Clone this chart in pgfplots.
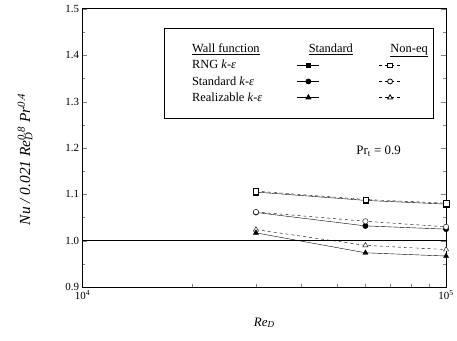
\documentclass[border=0pt]{standalone}
\usepackage{fontspec}
\setmainfont{Liberation Serif}
\usepackage{pgfplots}
\pgfplotsset{compat=1.18}
\pgfplotsset{
  legsym/.style 2 args={legend image code/.code={\path (-#1,0pt) (#2,0pt); \draw[mark repeat=2,mark phase=2] plot coordinates {(-11pt,0pt) (0pt,0pt) (11pt,0pt)};}},
  legpad/.style={legend image code/.code={\path (0pt,0pt) (22pt,0pt);}},
}
\begin{document}
\begin{tikzpicture}
\begin{axis}[
  name=ax,
  scale only axis, width=366pt, height=280pt,
  xmode=log, xmin=1e4, xmax=1e5,
  ymin=0.9, ymax=1.5,
  xtick={1e4,1e5}, xticklabels={10\textsuperscript{4},10\textsuperscript{5}},
  ytick={0.9,1.0,1.1,1.2,1.3,1.4,1.5},
  minor y tick num=1,
  tick align=inside, xtick pos=bottom, ytick pos=both,
  yticklabel style={/pgf/number format/.cd, fixed, fixed zerofill, precision=1, assume math mode=true},
  tick label style={font=\fontsize{11}{12}\selectfont},
  axis line style={line width=1pt},
  major tick length=5pt, minor tick length=3pt,
  xlabel={\textit{Re}\textsubscript{\textit{D}}},
  ylabel={\textit{Nu / 0.021 Re}\rlap{\textsubscript{\textit{D}}}\textsuperscript{\textit{0.8}} \textit{Pr}\textsuperscript{\textit{0.4}}},
  xlabel style={font=\fontsize{13}{15}\selectfont, at={(rel axis cs:0.5,0)}, anchor=center, yshift=-36pt},
  ylabel style={font=\fontsize{15.5}{17}\selectfont, at={(rel axis cs:0,0.46)}, anchor=south, yshift=47pt},
  legend columns=3,
  legend style={at={(rel axis cs:0.967,0.932)}, anchor=north east, draw=black, line width=0.8pt,
    font=\fontsize{12.5}{14}\selectfont, column sep=0pt, row sep=6pt,
    inner xsep=5pt, inner ysep=16pt, nodes={inner sep=0pt}, cells={anchor=west}},
]
% reference line
\addplot[black, line width=1.4pt, forget plot] coordinates {(1e4,1.0) (1e5,1.0)};
% RNG
\addplot[black, solid, mark=square*, mark size=2.7pt, forget plot] coordinates {(3e4,1.105) (6e4,1.087) (1e5,1.079)};
\addplot[black, dashed, mark=square*, mark size=2.7pt, mark options={solid,fill=white}, forget plot] coordinates {(3e4,1.107) (6e4,1.089) (1e5,1.081)};
% Standard
\addplot[black, solid, mark=*, mark size=2.7pt, forget plot] coordinates {(3e4,1.061) (6e4,1.032) (1e5,1.025)};
\addplot[black, dashed, mark=*, mark size=2.7pt, mark options={solid,fill=white}, forget plot] coordinates {(3e4,1.062) (6e4,1.042) (1e5,1.030)};
% Realizable
\addplot[black, dashed, mark=triangle*, mark size=3pt, mark options={solid,fill=white}, forget plot] coordinates {(3e4,1.024) (6e4,0.990) (1e5,0.981)};
\addplot[black, solid, mark=triangle*, mark size=3pt, forget plot] coordinates {(3e4,1.017) (6e4,0.974) (1e5,0.967)};
\node[anchor=east, font=\fontsize{13}{15}\selectfont] at (rel axis cs:0.885,0.489) {Pr\textsubscript{t} = 0.9};
% legend
\addlegendimage{legpad}\addlegendentry{\underline{Wall function}}
\addlegendimage{legend image code/.code={\path (-46pt,0pt) (26pt,0pt); \node[inner sep=0pt] at (0pt,0pt) {\underline{Standard}};}}\addlegendentry{}
\addlegendimage{legend image code/.code={\path (-36pt,0pt) (33pt,0pt); \node[inner sep=0pt] at (0pt,0pt) {\underline{Non-eq}};}}\addlegendentry{}
\addlegendimage{legpad}\addlegendentry{RNG \textit{k}-\textit{ε}}
\addlegendimage{black, solid, mark=square*, mark size=2.5pt, legsym={46pt}{26pt}}\addlegendentry{}
\addlegendimage{black, dashed, mark=square*, mark size=2.5pt, mark options={solid,fill=white}, legsym={36pt}{33pt}}\addlegendentry{}
\addlegendimage{legpad}\addlegendentry{Standard \textit{k}-\textit{ε}}
\addlegendimage{black, solid, mark=*, mark size=2.5pt, legsym={46pt}{26pt}}\addlegendentry{}
\addlegendimage{black, dashed, mark=*, mark size=2.5pt, mark options={solid,fill=white}, legsym={36pt}{33pt}}\addlegendentry{}
\addlegendimage{legpad}\addlegendentry{Realizable \textit{k}-\textit{ε}}
\addlegendimage{black, solid, mark=triangle*, mark size=2.8pt, legsym={46pt}{26pt}}\addlegendentry{}
\addlegendimage{black, dashed, mark=triangle*, mark size=2.8pt, mark options={solid,fill=white}, legsym={36pt}{33pt}}\addlegendentry{}
\end{axis}
\path ([xshift=-83pt,yshift=-54pt]ax.south west) rectangle ([xshift=8pt,yshift=9pt]ax.north east);
\end{tikzpicture}
\end{document}
